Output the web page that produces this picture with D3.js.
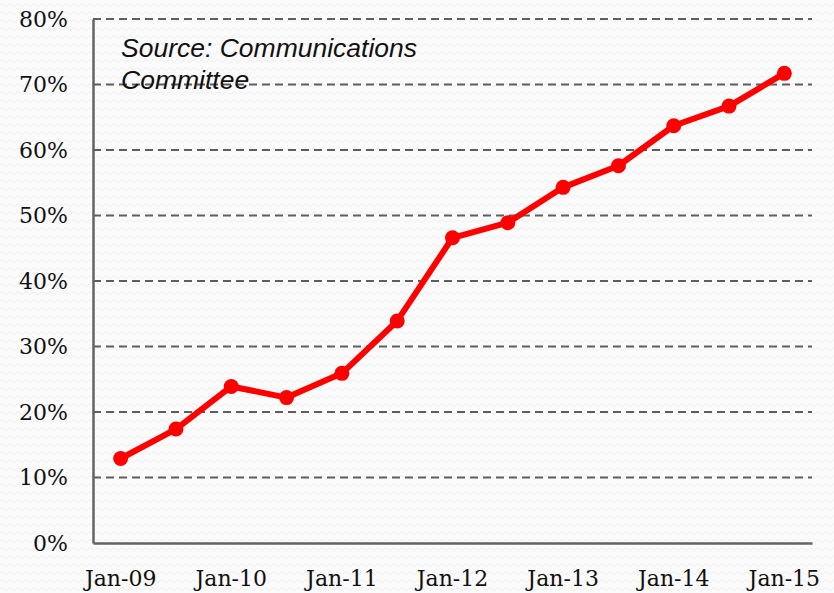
<!DOCTYPE html>
<html>
<head>
<meta charset="utf-8">
<script src="https://cdn.jsdelivr.net/npm/d3@7"></script>
<style>
  body { margin: 0; background: #fbfbfb; }
  #chart svg { display: block; }
</style>
</head>
<body>
<div id="chart"></div>
<script>
// half-yearly observations, only the January ones get a label
const periods = ["Jan-09", "Jul-09", "Jan-10", "Jul-10", "Jan-11", "Jul-11", "Jan-12",
                 "Jul-12", "Jan-13", "Jul-13", "Jan-14", "Jul-14", "Jan-15"];
const shares = [0.129, 0.174, 0.239, 0.222, 0.259, 0.339, 0.466,
                0.489, 0.543, 0.576, 0.637, 0.667, 0.717];
const yTicks = [0, 0.1, 0.2, 0.3, 0.4, 0.5, 0.6, 0.7, 0.8];
const sourceLines = ["Source: Communications", "Committee"];

const width = 834;
const height = 593;
const margin = { top: 19, right: 22, bottom: 50, left: 93 };
const tickFont = "DejaVu Serif";

const svg = d3.select("#chart")
  .append("svg")
  .attr("width", width)
  .attr("height", height);

// faint wavy paper texture behind everything
const defs = svg.append("defs");
const pattern = defs.append("pattern")
  .attr("id", "paper")
  .attr("width", 8)
  .attr("height", 8)
  .attr("patternUnits", "userSpaceOnUse");
pattern.append("rect").attr("width", 8).attr("height", 8).attr("fill", "#fbfbfb");
pattern.append("path")
  .attr("d", "M0,5 Q2,2 4,5 T8,5")
  .attr("fill", "none")
  .attr("stroke", "#efefef")
  .attr("stroke-width", 1);

svg.append("rect")
  .attr("width", width)
  .attr("height", height)
  .attr("fill", "url(#paper)");

const x = d3.scaleBand()
  .domain(periods)
  .range([margin.left, width - margin.right]);

const y = d3.scaleLinear()
  .domain([0, 0.8])
  .range([height - margin.bottom, margin.top]);

// dashed gridlines (skip zero, that's the axis)
svg.append("g")
  .selectAll("line")
  .data(yTicks.filter(d => d > 0))
  .enter()
  .append("line")
  .attr("x1", margin.left)
  .attr("x2", width - margin.right)
  .attr("y1", d => y(d))
  .attr("y2", d => y(d))
  .attr("stroke", "#5e5e5e")
  .attr("stroke-width", 2)
  .attr("stroke-dasharray", "8,5");

// y axis
const yAxis = svg.append("g")
  .attr("transform", `translate(${margin.left},0)`)
  .call(d3.axisLeft(y).tickValues(yTicks).tickFormat(d3.format(".0%")).tickSize(0).tickPadding(25))
  .attr("font-family", tickFont)
  .attr("font-size", 22);
yAxis.select(".domain")
  .attr("stroke", "#636363")
  .attr("stroke-width", 2.5);
yAxis.selectAll("text").attr("fill", "#111");

// x axis
const xAxis = svg.append("g")
  .attr("transform", `translate(0,${height - margin.bottom})`)
  .call(d3.axisBottom(x)
    .tickValues(periods.filter(p => p.startsWith("Jan")))
    .tickSize(0)
    .tickPadding(27))
  .attr("font-family", tickFont)
  .attr("font-size", 22);
xAxis.select(".domain")
  .attr("stroke", "#636363")
  .attr("stroke-width", 2.5);
xAxis.selectAll("text").attr("fill", "#111");

// the series
const cx = d => x(d) + x.bandwidth() / 2;
const line = d3.line()
  .x((d, i) => cx(periods[i]))
  .y(d => y(d));

svg.append("path")
  .datum(shares)
  .attr("d", line)
  .attr("fill", "none")
  .attr("stroke", "#ff0000")
  .attr("stroke-width", 6)
  .attr("stroke-linejoin", "round");

svg.append("g")
  .selectAll("circle")
  .data(shares)
  .enter()
  .append("circle")
  .attr("cx", (d, i) => cx(periods[i]))
  .attr("cy", d => y(d))
  .attr("r", 7.5)
  .attr("fill", "#ff0000");

// source note
svg.append("text")
  .style("font-family", "'Liberation Sans', Arial, sans-serif")
  .style("font-style", "italic")
  .style("font-size", "26.5px")
  .attr("fill", "#111")
  .selectAll("tspan")
  .data(sourceLines)
  .enter()
  .append("tspan")
  .attr("x", 121)
  .attr("y", (d, i) => 57 + i * 32)
  .text(d => d);
</script>
</body>
</html>
